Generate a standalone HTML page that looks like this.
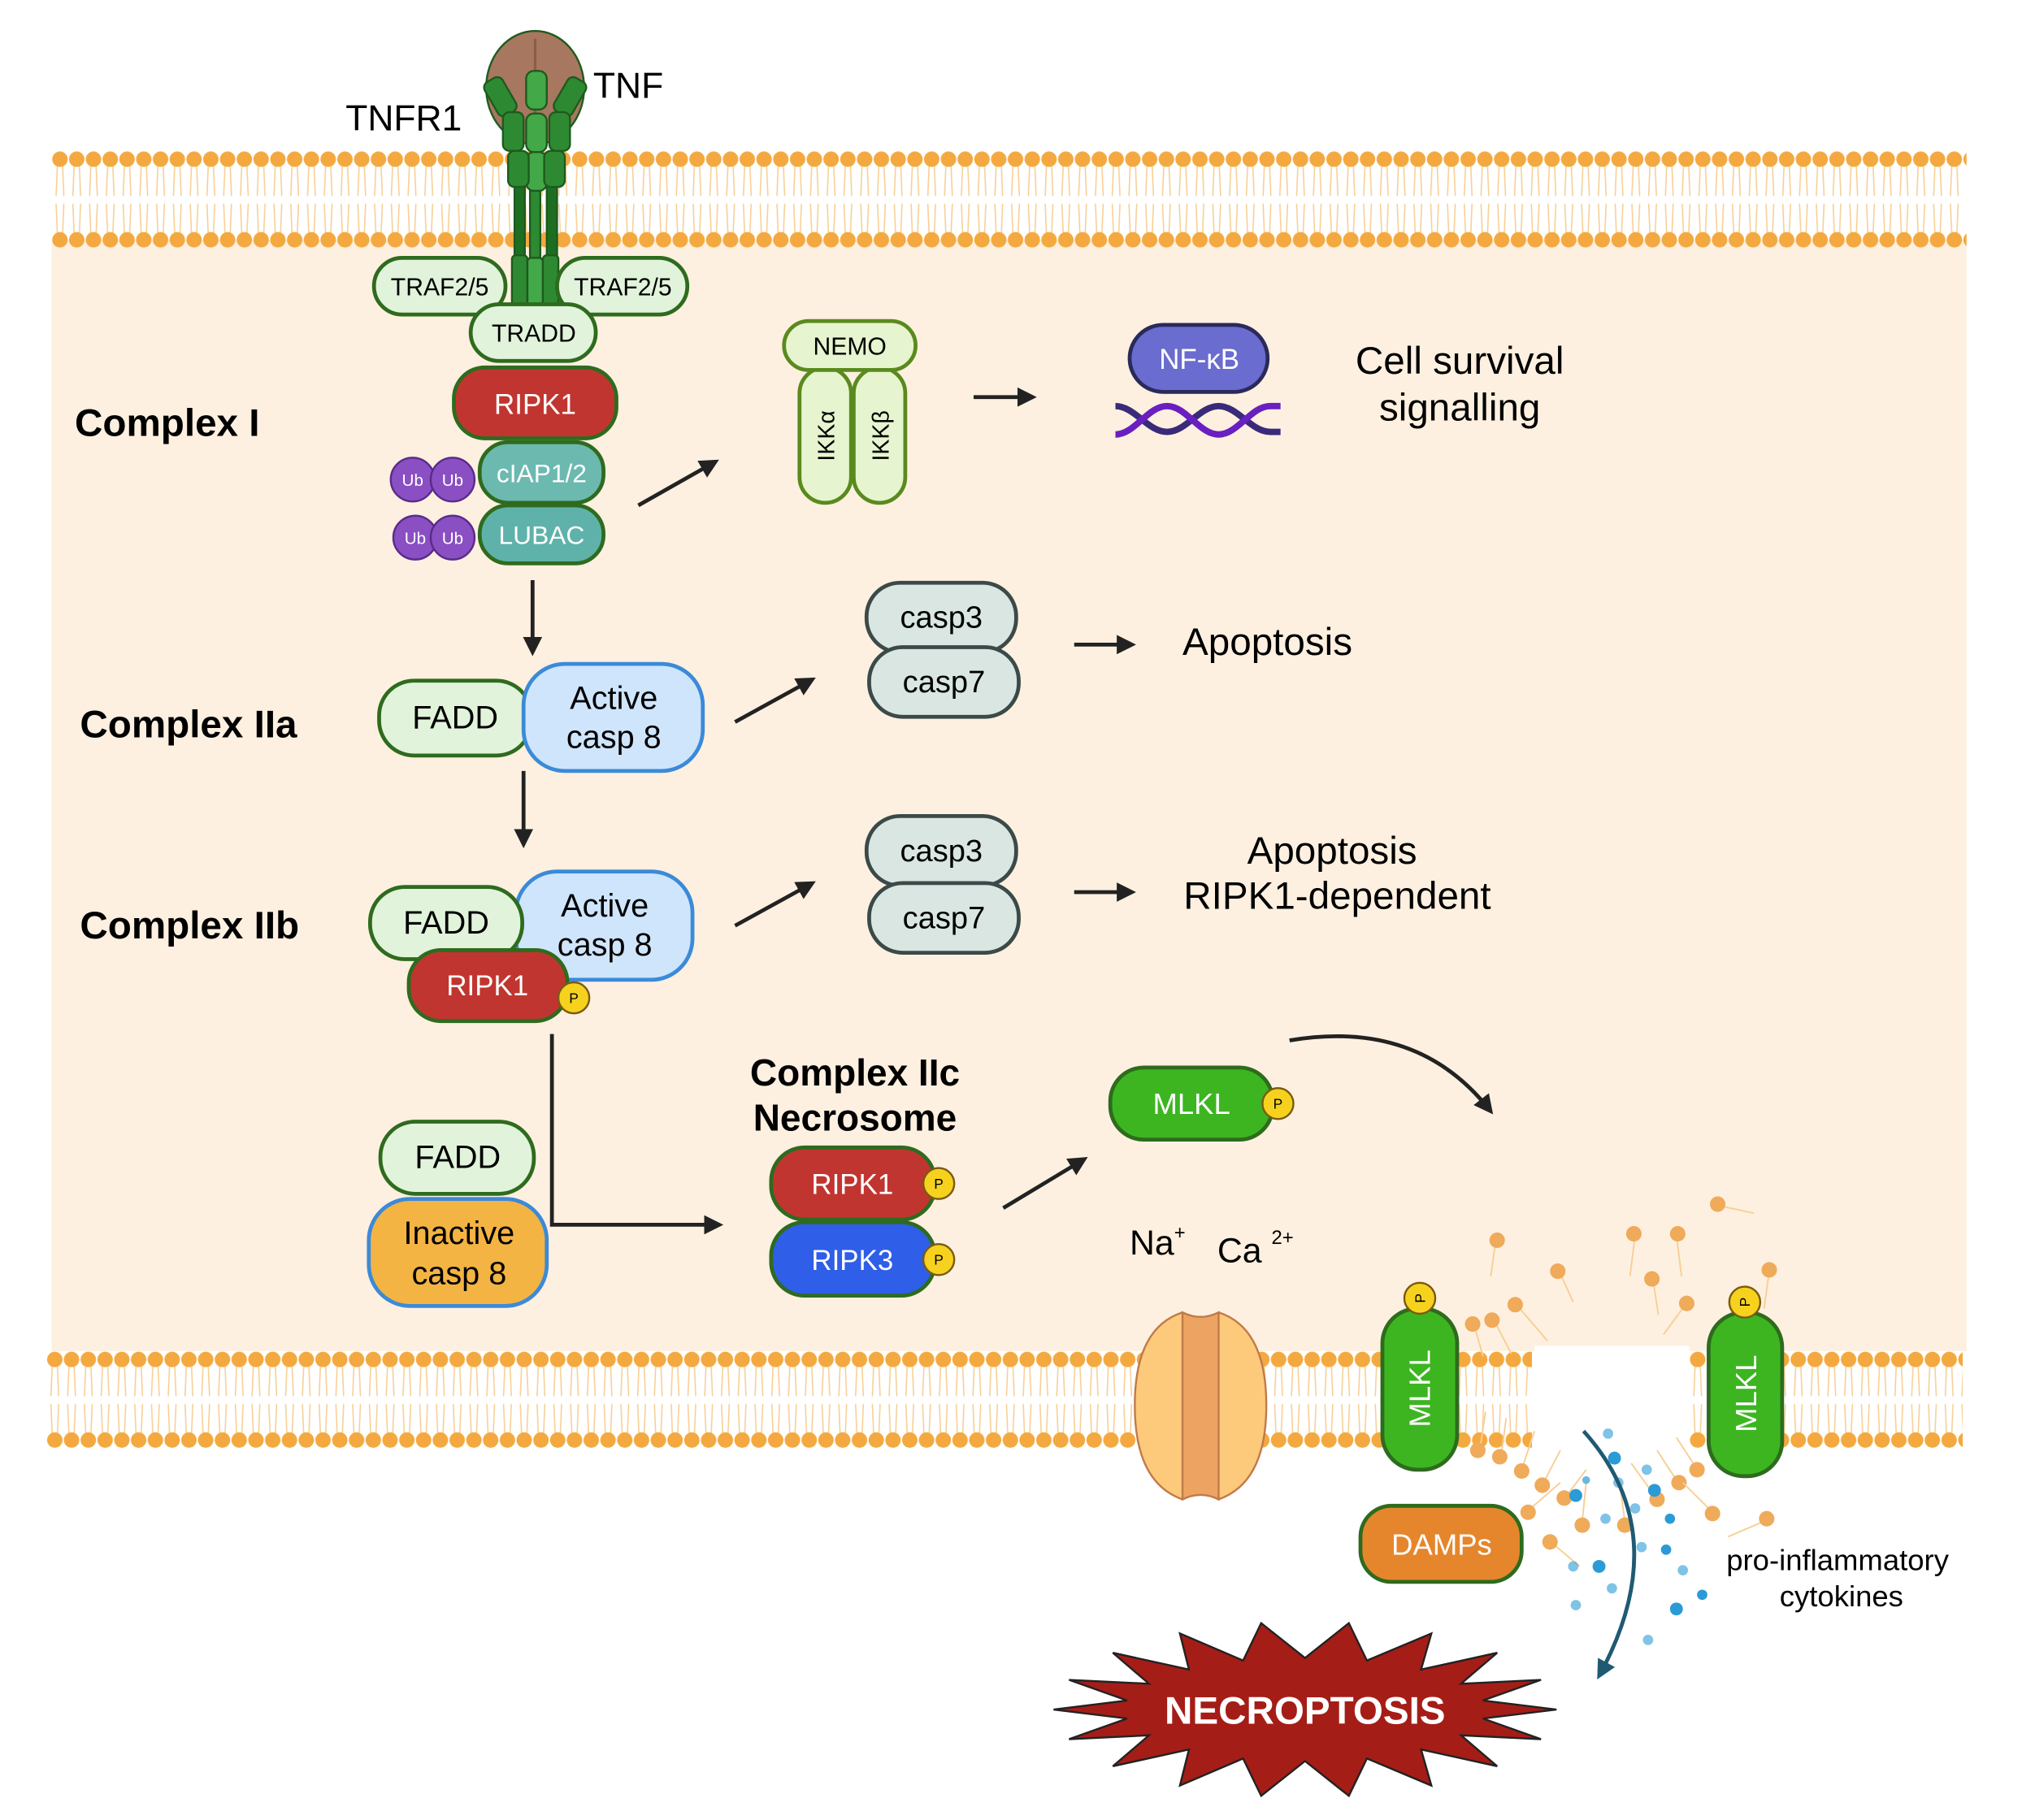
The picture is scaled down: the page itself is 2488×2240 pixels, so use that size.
<!DOCTYPE html>
<html><head><meta charset="utf-8"><style>
html,body{margin:0;padding:0;background:#fff}
svg{display:block}
text{font-family:"Liberation Sans",sans-serif}
</style></head><body>
<svg width="2488" height="2240" viewBox="0 0 1568 1411.7" preserveAspectRatio="none" xmlns="http://www.w3.org/2000/svg">
<defs>
<pattern id="mem" x="40" y="117" width="13" height="76" patternUnits="userSpaceOnUse">
<g stroke="#f7cf95" stroke-width="1" fill="none">
<path d="M4.5 11 L3.5 35 M8.5 11 L9.5 35 M4.5 65 L3.5 41 M8.5 65 L9.5 41"/>
</g>
<circle cx="6.5" cy="6.5" r="6" fill="#f4a940"/>
<circle cx="6.5" cy="69" r="6" fill="#f4a940"/>
</pattern>
<pattern id="mem2" x="36" y="1048" width="13" height="76" patternUnits="userSpaceOnUse">
<g stroke="#f7cf95" stroke-width="1" fill="none">
<path d="M4.5 11 L3.5 35 M8.5 11 L9.5 35 M4.5 65 L3.5 41 M8.5 65 L9.5 41"/>
</g>
<circle cx="6.5" cy="6.5" r="6" fill="#f4a940"/>
<circle cx="6.5" cy="69" r="6" fill="#f4a940"/>
</pattern>
<marker id="ah" viewBox="0 0 10 10" refX="8" refY="5" markerWidth="5" markerHeight="5" orient="auto"><path d="M0 0 L10 5 L0 10 z" fill="#222"/></marker>
<marker id="ahb" viewBox="0 0 10 10" refX="8" refY="5" markerWidth="5" markerHeight="5" orient="auto"><path d="M0 0 L10 5 L0 10 z" fill="#1f5a72"/></marker>
</defs>

<!-- cytoplasm -->
<rect x="40" y="186" width="1485" height="862" fill="#fdf0e0"/>
<rect x="1190" y="1044" width="120" height="80" fill="#fff"/>
<!-- membranes -->
<rect x="40" y="117" width="1485" height="76" fill="url(#mem)"/>
<rect x="36" y="1048" width="1152" height="76" fill="url(#mem2)"/>
<rect x="1310" y="1048" width="212" height="76" fill="url(#mem2)"/>

<!-- scattered lipids around pore -->
<g fill="#efaa5a" stroke="#f7cf95" stroke-width="1.2">
<g><line x1="1160" y1="962" x2="1156" y2="990"/><circle cx="1161" cy="962" r="6" stroke="none"/></g>
<g><line x1="1210" y1="988" x2="1220" y2="1010"/><circle cx="1208" cy="986" r="6" stroke="none"/></g>
<g><line x1="1268" y1="958" x2="1264" y2="990"/><circle cx="1267" cy="957" r="6" stroke="none"/></g>
<g><line x1="1300" y1="958" x2="1304" y2="990"/><circle cx="1301" cy="957" r="6" stroke="none"/></g>
<g><line x1="1332" y1="935" x2="1360" y2="941"/><circle cx="1332" cy="934" r="6" stroke="none"/></g>
<g><line x1="1282" y1="993" x2="1286" y2="1020"/><circle cx="1281" cy="992" r="6" stroke="none"/></g>
<g><line x1="1307" y1="1012" x2="1290" y2="1035"/><circle cx="1308" cy="1011" r="6" stroke="none"/></g>
<g><line x1="1372" y1="986" x2="1368" y2="1015"/><circle cx="1372" cy="985" r="6" stroke="none"/></g>
<g><line x1="1176" y1="1012" x2="1200" y2="1040"/><circle cx="1175" cy="1012" r="6" stroke="none"/></g>
<g><line x1="1158" y1="1023" x2="1172" y2="1050"/><circle cx="1157" cy="1024" r="6" stroke="none"/></g>
<g><line x1="1143" y1="1027" x2="1150" y2="1052"/><circle cx="1142" cy="1027" r="6" stroke="none"/></g>
<g><line x1="1148" y1="1122" x2="1152" y2="1095"/><circle cx="1146" cy="1125" r="6" stroke="none"/></g>
<g><line x1="1164" y1="1130" x2="1168" y2="1100"/><circle cx="1163" cy="1130" r="6" stroke="none"/></g>
<g><line x1="1180" y1="1140" x2="1190" y2="1110"/><circle cx="1180" cy="1141" r="6" stroke="none"/></g>
<g><line x1="1197" y1="1150" x2="1210" y2="1125"/><circle cx="1196" cy="1152" r="6" stroke="none"/></g>
<g><line x1="1215" y1="1160" x2="1230" y2="1140"/><circle cx="1213" cy="1162" r="6" stroke="none"/></g>
<g><line x1="1187" y1="1170" x2="1210" y2="1150"/><circle cx="1185" cy="1173" r="6" stroke="none"/></g>
<g><line x1="1227" y1="1180" x2="1230" y2="1150"/><circle cx="1227" cy="1183" r="6" stroke="none"/></g>
<g><line x1="1205" y1="1198" x2="1225" y2="1215"/><circle cx="1202" cy="1196" r="6" stroke="none"/></g>
<g><line x1="1260" y1="1180" x2="1256" y2="1150"/><circle cx="1260" cy="1183" r="6" stroke="none"/></g>
<g><line x1="1283" y1="1160" x2="1265" y2="1135"/><circle cx="1285" cy="1163" r="6" stroke="none"/></g>
<g><line x1="1300" y1="1148" x2="1285" y2="1125"/><circle cx="1302" cy="1150" r="6" stroke="none"/></g>
<g><line x1="1315" y1="1138" x2="1300" y2="1115"/><circle cx="1316" cy="1140" r="6" stroke="none"/></g>
<g><line x1="1325" y1="1170" x2="1305" y2="1150"/><circle cx="1328" cy="1174" r="6" stroke="none"/></g>
<g><line x1="1368" y1="1180" x2="1340" y2="1192"/><circle cx="1370" cy="1178" r="6" stroke="none"/></g>
</g>
<!-- cytokine dots -->
<g fill="#2a9bd6">
<circle cx="1247" cy="1112" r="4" opacity=".6"/><circle cx="1252" cy="1131" r="5"/><circle cx="1255" cy="1150" r="4" opacity=".6"/>
<circle cx="1230" cy="1148" r="3" opacity=".7"/><circle cx="1222" cy="1160" r="5"/><circle cx="1277" cy="1140" r="4" opacity=".6"/>
<circle cx="1283" cy="1156" r="5"/><circle cx="1268" cy="1170" r="4" opacity=".6"/><circle cx="1245" cy="1178" r="4" opacity=".6"/>
<circle cx="1295" cy="1178" r="4"/><circle cx="1240" cy="1215" r="5"/><circle cx="1273" cy="1200" r="4" opacity=".6"/>
<circle cx="1292" cy="1202" r="4"/><circle cx="1220" cy="1215" r="4" opacity=".6"/><circle cx="1250" cy="1232" r="4" opacity=".6"/>
<circle cx="1300" cy="1248" r="5"/><circle cx="1320" cy="1237" r="4"/><circle cx="1222" cy="1245" r="4" opacity=".6"/>
<circle cx="1278" cy="1272" r="4" opacity=".6"/><circle cx="1305" cy="1218" r="4" opacity=".6"/>
</g>
<path d="M1228 1110 Q1300 1190 1240 1300" fill="none" stroke="#1f5a72" stroke-width="3" marker-end="url(#ahb)"/>

<!-- receptor -->
<g stroke="#1e5a1e" stroke-width="1.5">
<ellipse cx="415" cy="68" rx="38" ry="44" fill="#a7775f"/>
<path d="M415 30 L415 110" stroke="#8a5e48" stroke-width="2" fill="none"/>
<rect x="399" y="140" width="8" height="96" fill="#1e6e22"/>
<rect x="411" y="140" width="8" height="96" fill="#2e8a32"/>
<rect x="424" y="140" width="8" height="96" fill="#1e6e22"/>
<rect x="397" y="198" width="12" height="40" rx="3" fill="#2e8a32"/>
<rect x="409" y="200" width="12" height="38" rx="3" fill="#43a847"/>
<rect x="421" y="198" width="12" height="40" rx="3" fill="#2e8a32"/>
<rect x="408" y="55" width="16" height="30" rx="6" fill="#43a847"/>
<rect x="408" y="88" width="16" height="30" rx="6" fill="#43a847"/>
<rect x="408" y="118" width="16" height="30" rx="6" fill="#43a847"/>
<rect x="380" y="60" width="16" height="30" rx="5" fill="#2e8a32" transform="rotate(-30 388 75)"/>
<rect x="434" y="60" width="16" height="30" rx="5" fill="#2e8a32" transform="rotate(30 442 75)"/>
<rect x="390" y="87" width="16" height="30" rx="5" fill="#2e8a32"/>
<rect x="426" y="87" width="16" height="30" rx="5" fill="#2e8a32"/>
<rect x="394" y="117" width="16" height="28" rx="5" fill="#2e8a32"/>
<rect x="422" y="117" width="16" height="28" rx="5" fill="#2e8a32"/>
</g>
<text x="268" y="101" font-size="28">TNFR1</text>
<text x="460" y="76" font-size="28">TNF</text>

<!-- complex I -->
<g stroke="#2e6b1e" stroke-width="3">
<rect x="290" y="200" width="102" height="44" rx="22" fill="#e1f3da"/>
<rect x="432" y="200" width="101" height="44" rx="22" fill="#e1f3da"/>
<rect x="365" y="236" width="97" height="44" rx="22" fill="#e1f3da"/>
<rect x="352" y="285" width="126" height="55" rx="24" fill="#c13530"/>
<rect x="372" y="343" width="96" height="47" rx="22" fill="#6cb9b0"/>
<rect x="372" y="392" width="96" height="45" rx="22" fill="#5fb2a9"/>
</g>
<text x="341" y="229" font-size="19" text-anchor="middle">TRAF2/5</text>
<text x="483" y="229" font-size="19" text-anchor="middle">TRAF2/5</text>
<text x="414" y="265" font-size="19" text-anchor="middle">TRADD</text>
<text x="415" y="321" font-size="22" text-anchor="middle" fill="#fff">RIPK1</text>
<text x="420" y="374" font-size="20" text-anchor="middle" fill="#fff">cIAP1/2</text>
<text x="420" y="422" font-size="20" text-anchor="middle" fill="#fff">LUBAC</text>
<g fill="#8a4fc3" stroke="#5a2a8a" stroke-width="1.5">
<circle cx="320" cy="372" r="17"/><circle cx="351" cy="372" r="17"/>
<circle cx="322" cy="417" r="17"/><circle cx="351" cy="417" r="17"/>
</g>
<g fill="#fff" font-size="13" text-anchor="middle">
<text x="320" y="377">Ub</text><text x="351" y="377">Ub</text>
<text x="322" y="422">Ub</text><text x="351" y="422">Ub</text>
</g>
<text x="58" y="338" font-size="30" font-weight="bold">Complex I</text>

<!-- NEMO / IKK -->
<g stroke="#5a8a1e" stroke-width="3" fill="#e6f5cf">
<rect x="620" y="285" width="40" height="105" rx="20"/>
<rect x="662" y="285" width="40" height="105" rx="20"/>
<rect x="608" y="249" width="102" height="38" rx="19"/>
</g>
<text x="659" y="275" font-size="19" text-anchor="middle">NEMO</text>
<text transform="translate(647 338) rotate(-90)" font-size="18" text-anchor="middle">IKKα</text>
<text transform="translate(689 338) rotate(-90)" font-size="18" text-anchor="middle">IKKβ</text>

<!-- NF-kB -->
<rect x="876" y="252" width="107" height="52" rx="26" fill="#6a6ccf" stroke="#2a2a5a" stroke-width="3"/>
<text x="930" y="286" font-size="22" text-anchor="middle" fill="#fff">NF-κB</text>
<path d="M865 315 C880 315 890 335 905 335 C920 335 930 315 945 315 C960 315 970 335 985 335 L993 335" fill="none" stroke="#3a2a7a" stroke-width="5"/>
<path d="M865 337 C880 337 890 315 905 315 C920 315 930 337 945 337 C960 337 970 315 985 315 L993 315" fill="none" stroke="#6a1fc0" stroke-width="5"/>
<text x="1132" y="290" font-size="30" text-anchor="middle">Cell survival</text>
<text x="1132" y="326" font-size="30" text-anchor="middle">signalling</text>

<!-- arrows -->
<g stroke="#222" stroke-width="3" fill="none" marker-end="url(#ah)">
<line x1="495" y1="392" x2="555" y2="358"/>
<line x1="755" y1="308" x2="801" y2="308"/>
<line x1="413" y1="450" x2="413" y2="506"/>
<line x1="570" y1="560" x2="630" y2="527"/>
<line x1="833" y1="500" x2="878" y2="500"/>
<line x1="406" y1="598" x2="406" y2="655"/>
<line x1="570" y1="718" x2="630" y2="685"/>
<line x1="833" y1="692" x2="878" y2="692"/>
<path d="M428 802 L428 950 L558 950"/>
<line x1="778" y1="937" x2="841" y2="899"/>
<path d="M1000 807 Q1100 790 1156 862"/>
</g>

<!-- complex IIa -->
<text x="62" y="572" font-size="30" font-weight="bold">Complex IIa</text>
<rect x="294" y="528" width="118" height="58" rx="27" fill="#e1f3da" stroke="#2e6b1e" stroke-width="3"/>
<rect x="406" y="515" width="139" height="83" rx="32" fill="#cfe5fb" stroke="#3b8ad9" stroke-width="3"/>
<text x="353" y="565" font-size="25" text-anchor="middle">FADD</text>
<text x="476" y="550" font-size="25" text-anchor="middle">Active</text>
<text x="476" y="580" font-size="25" text-anchor="middle">casp 8</text>

<g stroke="#3b4a48" stroke-width="3" fill="#d9e6e2">
<rect x="672" y="452" width="116" height="54" rx="26"/>
<rect x="674" y="502" width="116" height="54" rx="26"/>
<rect x="672" y="633" width="116" height="54" rx="26"/>
<rect x="674" y="685" width="116" height="54" rx="26"/>
</g>
<g font-size="24" text-anchor="middle">
<text x="730" y="487">casp3</text><text x="732" y="537">casp7</text>
<text x="730" y="668">casp3</text><text x="732" y="720">casp7</text>
</g>
<text x="917" y="508" font-size="30">Apoptosis</text>
<text x="1033" y="670" font-size="30" text-anchor="middle">Apoptosis</text>
<text x="1037" y="705" font-size="30" text-anchor="middle">RIPK1-dependent</text>

<!-- complex IIb -->
<text x="62" y="728" font-size="30" font-weight="bold">Complex IIb</text>
<rect x="400" y="676" width="137" height="84" rx="32" fill="#cfe5fb" stroke="#3b8ad9" stroke-width="3"/>
<rect x="287" y="688" width="118" height="56" rx="27" fill="#e1f3da" stroke="#2e6b1e" stroke-width="3"/>
<text x="469" y="711" font-size="25" text-anchor="middle">Active</text>
<text x="469" y="741" font-size="25" text-anchor="middle">casp 8</text>
<text x="346" y="724" font-size="25" text-anchor="middle">FADD</text>
<rect x="317" y="737" width="123" height="55" rx="25" fill="#c13530" stroke="#2e6b1e" stroke-width="3"/>
<text x="378" y="772" font-size="22" text-anchor="middle" fill="#fff">RIPK1</text>

<!-- FADD / inactive -->
<rect x="295" y="870" width="119" height="56" rx="27" fill="#e1f3da" stroke="#2e6b1e" stroke-width="3"/>
<text x="355" y="906" font-size="25" text-anchor="middle">FADD</text>
<rect x="286" y="930" width="138" height="83" rx="32" fill="#f3b443" stroke="#3b8ad9" stroke-width="3"/>
<text x="356" y="965" font-size="25" text-anchor="middle">Inactive</text>
<text x="356" y="996" font-size="25" text-anchor="middle">casp 8</text>

<!-- necrosome -->
<text x="663" y="842" font-size="29" font-weight="bold" text-anchor="middle">Complex IIc</text>
<text x="663" y="877" font-size="29" font-weight="bold" text-anchor="middle">Necrosome</text>
<rect x="598" y="890" width="127" height="56" rx="26" fill="#c13530" stroke="#2e6b1e" stroke-width="3"/>
<rect x="598" y="948" width="127" height="57" rx="26" fill="#2f5ee8" stroke="#2e6b1e" stroke-width="3"/>
<text x="661" y="926" font-size="22" text-anchor="middle" fill="#fff">RIPK1</text>
<text x="661" y="985" font-size="22" text-anchor="middle" fill="#fff">RIPK3</text>

<!-- MLKL -->
<rect x="861" y="828" width="126" height="56" rx="26" fill="#3cb521" stroke="#2e6b1e" stroke-width="3"/>
<text x="924" y="864" font-size="23" text-anchor="middle" fill="#fff">MLKL</text>

<text x="876" y="973" font-size="27">Na<tspan font-size="15" dy="-12">+</tspan></text>
<text x="944" y="979" font-size="27">Ca <tspan font-size="15" dy="-14">2+</tspan></text>

<!-- channel -->
<path d="M917 1018 Q931 1025 945 1018 Q982 1030 982 1090 Q982 1150 945 1163 Q931 1156 917 1163 Q880 1150 880 1090 Q880 1030 917 1018 Z" fill="#fdc97a" stroke="#c07a4a" stroke-width="1.5"/>
<path d="M917 1018 Q931 1025 945 1018 L945 1163 Q931 1156 917 1163 Z" fill="#eda463" stroke="#c07a4a" stroke-width="1.5"/>

<!-- membrane MLKL -->
<rect x="1072" y="1015" width="58" height="125" rx="27" fill="#3cb521" stroke="#2e6b1e" stroke-width="3"/>
<rect x="1325" y="1018" width="57" height="127" rx="27" fill="#3cb521" stroke="#2e6b1e" stroke-width="3"/>
<text transform="translate(1109 1077) rotate(-90)" font-size="23" text-anchor="middle" fill="#fff">MLKL</text>
<text transform="translate(1362 1081) rotate(-90)" font-size="23" text-anchor="middle" fill="#fff">MLKL</text>

<!-- P circles -->
<g fill="#f6d21e" stroke="#7a5a10" stroke-width="1.5">
<circle cx="445" cy="774" r="12"/><circle cx="728" cy="918" r="12"/><circle cx="728" cy="977" r="12"/>
<circle cx="991" cy="856" r="12"/><circle cx="1101" cy="1007" r="12"/><circle cx="1353" cy="1010" r="12"/>
</g>
<g font-size="11" text-anchor="middle">
<text x="445" y="778">P</text><text x="728" y="922">P</text><text x="728" y="981">P</text><text x="991" y="860">P</text>
<text transform="translate(1105 1007) rotate(-90)">P</text><text transform="translate(1357 1010) rotate(-90)">P</text>
</g>

<!-- DAMPs -->
<rect x="1055" y="1168" width="125" height="59" rx="24" fill="#e5862c" stroke="#2e6b1e" stroke-width="3"/>
<text x="1118" y="1206" font-size="23" text-anchor="middle" fill="#fff">DAMPs</text>
<text x="1425" y="1218" font-size="23" text-anchor="middle">pro-inflammatory</text>
<text x="1428" y="1246" font-size="23" text-anchor="middle">cytokines</text>

<!-- necroptosis starburst -->
<polygon fill="#a51d17" stroke="#222" stroke-width="1.5" points="1207,1326 1150,1333 1195,1349 1133,1346 1161,1370 1102,1357 1110,1385 1060,1364 1046,1393 1012,1366 978,1393 964,1364 915,1385 922,1357 863,1370 891,1346 829,1349 874,1333 817,1326 874,1319 829,1303 891,1306 863,1282 922,1295 915,1267 964,1288 978,1259 1012,1286 1046,1259 1060,1288 1110,1267 1102,1295 1161,1282 1133,1306 1195,1303 1150,1319"/>
<text x="1012" y="1337" font-size="30" font-weight="bold" text-anchor="middle" fill="#fff">NECROPTOSIS</text>
</svg>
</body></html>
